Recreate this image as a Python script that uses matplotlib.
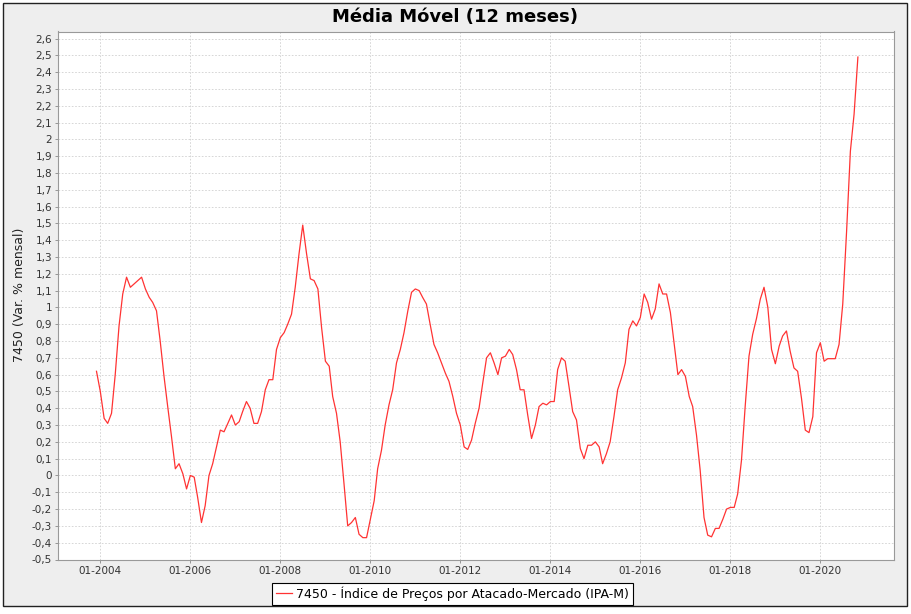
import numpy as np
import pandas as pd
import matplotlib
matplotlib.use('Agg')
import matplotlib.pyplot as plt
import matplotlib.dates as mdates
from matplotlib.patches import Rectangle
from matplotlib.ticker import MultipleLocator, FuncFormatter

# Dados (média móvel 12 meses) - começa em 12-2003
inicio = '2003-12-01'
valores = [
    0.62, 0.50, 0.34, 0.31, 0.37, 0.60, 0.89, 1.08, 1.18, 1.12, 1.14, 1.16, 1.18,   # 12-2003 .. 12-2004
    1.11, 1.06, 1.03, 0.98, 0.80, 0.59, 0.41, 0.23, 0.04, 0.07, 0.01, -0.08,        # 2005
    0.00, -0.01, -0.13, -0.28, -0.18, 0.00, 0.07, 0.17, 0.27, 0.26, 0.31, 0.36,     # 2006
    0.30, 0.32, 0.38, 0.44, 0.40, 0.31, 0.31, 0.38, 0.51, 0.57, 0.57, 0.75,         # 2007
    0.82, 0.85, 0.90, 0.96, 1.12, 1.32, 1.49, 1.32, 1.17, 1.16, 1.11, 0.88,         # 2008
    0.68, 0.65, 0.47, 0.37, 0.20, -0.05, -0.30, -0.28, -0.25, -0.35, -0.37, -0.37,  # 2009
    -0.26, -0.15, 0.04, 0.15, 0.30, 0.42, 0.51, 0.67, 0.75, 0.85, 0.98, 1.09,       # 2010
    1.11, 1.10, 1.06, 1.02, 0.90, 0.78, 0.73, 0.67, 0.61, 0.56, 0.47, 0.37,         # 2011
    0.30, 0.17, 0.155, 0.21, 0.31, 0.40, 0.55, 0.70, 0.73, 0.67, 0.60, 0.70,        # 2012
    0.71, 0.75, 0.72, 0.63, 0.51, 0.51, 0.36, 0.22, 0.30, 0.41, 0.43, 0.42,         # 2013
    0.44, 0.44, 0.63, 0.70, 0.68, 0.53, 0.38, 0.33, 0.16, 0.10, 0.18, 0.18,         # 2014
    0.20, 0.17, 0.07, 0.13, 0.20, 0.35, 0.51, 0.58, 0.67, 0.87, 0.92, 0.89,         # 2015
    0.94, 1.08, 1.03, 0.93, 0.99, 1.14, 1.08, 1.08, 0.97, 0.79, 0.60, 0.63,         # 2016
    0.59, 0.47, 0.41, 0.24, 0.03, -0.25, -0.355, -0.365, -0.315, -0.315, -0.26, -0.20,  # 2017
    -0.19, -0.19, -0.11, 0.09, 0.41, 0.71, 0.84, 0.935, 1.05, 1.12, 1.00, 0.75,    # 2018
    0.665, 0.77, 0.83, 0.86, 0.74, 0.64, 0.62, 0.46, 0.27, 0.255, 0.35, 0.73,      # 2019
    0.79, 0.68, 0.695, 0.695, 0.695, 0.78, 1.02, 1.45, 1.93, 2.15, 2.49,           # 2020
]
serie_nome = '7450 - Índice de Preços por Atacado-Mercado (IPA-M)'
titulo = 'Média Móvel (12 meses)'
rotulo_y = '7450 (Var. % mensal)'

datas = pd.date_range(inicio, periods=len(valores), freq='MS')

W, H = 911, 614
fig = plt.figure(figsize=(W / 100, H / 100), dpi=100)
fig.patch.set_facecolor('white')
# painel cinza com borda escura
fig.patches.append(Rectangle((3 / W, 8 / H), 904 / W, 603 / H, transform=fig.transFigure,
                             facecolor='#EEEEEE', edgecolor='#222222', lw=1.0, zorder=-10))

esq, dir_, topo, base = 58.3, 894, 31.5, 559.5
ax = fig.add_axes([esq / W, 1 - base / H, (dir_ - esq) / W, (base - topo) / H])
ax.set_facecolor('white')

ax.plot(datas, valores, color='#FF3333', lw=0.9, label=serie_nome)

ax.set_xlim(pd.Timestamp('2003-01-25'), pd.Timestamp('2021-08-21'))
ax.set_ylim(-0.5, 2.642)

ax.xaxis.set_major_locator(mdates.YearLocator(base=2, month=1, day=1))
ax.xaxis.set_major_formatter(mdates.DateFormatter('%m-%Y'))
ax.yaxis.set_major_locator(MultipleLocator(0.1))


def fmt_virgula(v, pos):
    v = round(v, 1)
    if abs(v) < 1e-9:
        return '0'
    s = f'{v:.1f}'.rstrip('0').rstrip('.')
    return s.replace('.', ',')


ax.yaxis.set_major_formatter(FuncFormatter(fmt_virgula))

ax.grid(True, color='#D0D0D0', linestyle=(0, (2, 2)), lw=0.6)
ax.set_axisbelow(True)
for lado in ['left', 'bottom', 'right', 'top']:
    ax.spines[lado].set_color('#999999')
    ax.spines[lado].set_linewidth(0.8)
ax.tick_params(axis='both', direction='out', length=2.5, width=0.6, color='#888888',
               labelsize=7.5, labelcolor='#333333', pad=2)

fig.text(0.5, 1 - 17 / H, titulo, ha='center', va='center', fontsize=13, fontweight='bold')
fig.text(20 / W, 1 - 295 / H, rotulo_y, ha='center', va='center', rotation=90,
         fontsize=9, color='#222222')

leg = fig.legend(loc='center', bbox_to_anchor=(452.5 / W, 1 - 593.5 / H), fontsize=9,
                 fancybox=False, edgecolor='black', framealpha=1, handlelength=1.3,
                 handletextpad=0.3, borderpad=0.3, borderaxespad=0)
leg.get_frame().set_linewidth(0.8)

fig.savefig('out.png', dpi=100)
